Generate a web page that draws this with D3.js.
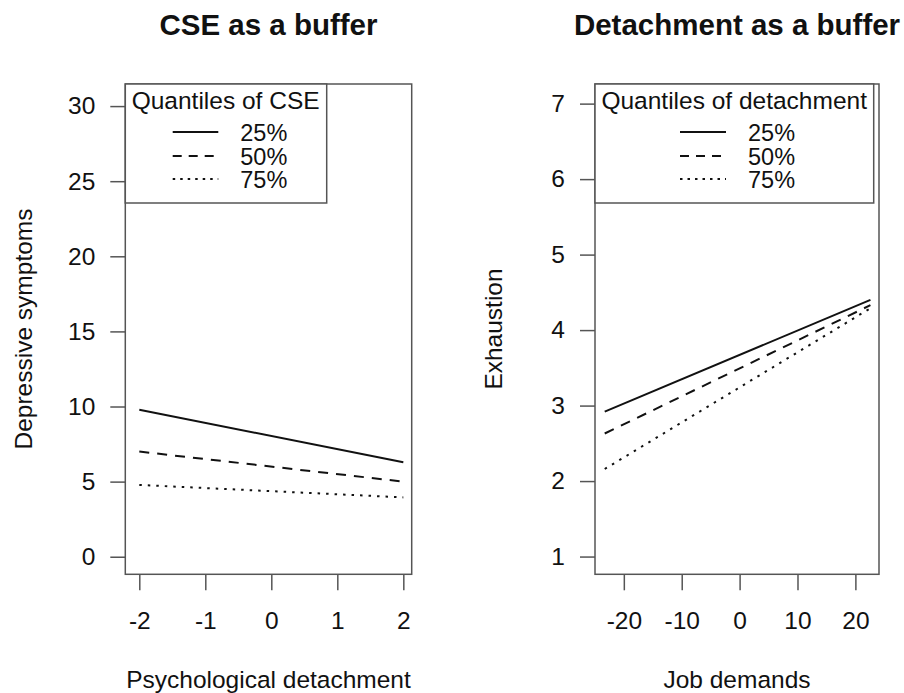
<!DOCTYPE html>
<html>
<head>
<meta charset="utf-8">
<script src="https://cdn.jsdelivr.net/npm/d3@7"></script>
<style>
  body { margin: 0; background: #fff; }
  text { font-family: "Liberation Sans", Arial, Helvetica, sans-serif; fill: #111; }
</style>
</head>
<body>
<div id="chart"></div>
<script>
// data
const quantiles = ["25%", "50%", "75%"];

const cseX = [-2, 2];
const cse25 = [9.78, 6.29];
const cse50 = [7.0, 5.0];
const cse75 = [4.78, 3.95];
const cseTicksX = [-2, -1, 0, 1, 2];
const cseTicksY = [0, 5, 10, 15, 20, 25, 30];

const detX = [-23.3, 22.6];
const det25 = [2.92, 4.40];
const det50 = [2.63, 4.33];
const det75 = [2.16, 4.29];
const detTicksX = [-20, -10, 0, 10, 20];
const detTicksY = [1, 2, 3, 4, 5, 6, 7];

const width = 904;
const height = 693;
const fontSize = 24.5;
const dashes = ["none", "10,8", "2.5,6"];
const legendDashes = ["none", "9,7", "2.5,5"];

const svg = d3.select("#chart").append("svg")
    .attr("width", width)
    .attr("height", height);

// R style labels: plain hyphen, no trailing decimals
const plain = d => String(d);

function drawPanel(p) {
    const x = d3.scaleLinear().domain(p.xDomain).range([p.left, p.right]);
    const y = d3.scaleLinear().domain(p.yDomain).range([574.3, 84]);
    const g = svg.append("g");

    // title
    g.append("text")
        .attr("x", (p.left + p.right) / 2)
        .attr("y", 35)
        .attr("text-anchor", "middle")
        .style("font-size", "29.5px")
        .style("font-weight", "bold")
        .text(p.title);

    // axes
    const xAxis = g.append("g")
        .attr("transform", "translate(0,574.3)")
        .call(d3.axisBottom(x).tickValues(p.ticksX).tickFormat(plain).tickSize(16).tickPadding(21));
    const yAxis = g.append("g")
        .attr("transform", `translate(${p.left},0)`)
        .call(d3.axisLeft(y).tickValues(p.ticksY).tickFormat(plain).tickSize(15).tickPadding(15));

    [xAxis, yAxis].forEach(a => {
        a.select(".domain").remove();
        a.selectAll("line").attr("stroke", "#555").attr("stroke-width", 1.5);
        a.selectAll("text")
            .attr("fill", "#111")
            .style("font-size", fontSize + "px")
            .style("font-family", '"Liberation Sans", Arial, sans-serif');
    });

    // axis titles
    g.append("text")
        .attr("x", (p.left + p.right) / 2)
        .attr("y", 688)
        .attr("text-anchor", "middle")
        .style("font-size", fontSize + "px")
        .text(p.xLabel);

    g.append("text")
        .attr("transform", `translate(${p.left - 93.5},329) rotate(-90)`)
        .attr("text-anchor", "middle")
        .style("font-size", fontSize + "px")
        .text(p.yLabel);

    // plot box
    g.append("rect")
        .attr("x", p.left)
        .attr("y", 84)
        .attr("width", p.right - p.left)
        .attr("height", 574.3 - 84)
        .attr("fill", "none")
        .attr("stroke", "#555")
        .attr("stroke-width", 1.5);

    // lines
    const line = d3.line()
        .x(d => x(d[0]))
        .y(d => y(d[1]));

    p.series.forEach((s, i) => {
        g.append("path")
            .datum(p.xs.map((v, j) => [v, s[j]]))
            .attr("d", line)
            .attr("fill", "none")
            .attr("stroke", "#111")
            .attr("stroke-width", 2)
            .attr("stroke-dasharray", dashes[i]);
    });

    // legend
    g.append("rect")
        .attr("x", p.left)
        .attr("y", 84)
        .attr("width", p.legendRight - p.left)
        .attr("height", 203 - 84)
        .attr("fill", "#fff")
        .attr("stroke", "#555")
        .attr("stroke-width", 1.5);

    g.append("text")
        .attr("x", p.left + 6.4)
        .attr("y", 109)
        .style("font-size", fontSize + "px")
        .text(p.legendTitle);

    const rows = [132, 156, 179];
    quantiles.forEach((q, i) => {
        g.append("line")
            .attr("x1", p.legendLine[0])
            .attr("x2", p.legendLine[1])
            .attr("y1", rows[i])
            .attr("y2", rows[i])
            .attr("stroke", "#111")
            .attr("stroke-width", 2)
            .attr("stroke-dasharray", legendDashes[i]);
        g.append("text")
            .attr("x", p.legendLine[1] + 22)
            .attr("y", rows[i] + 8.5)
            .style("font-size", "23.5px")
            .text(q);
    });
}

drawPanel({
    title: "CSE as a buffer",
    left: 125.3, right: 411.7,
    xDomain: [-2.212, 2.127],
    yDomain: [-1.17, 31.47],
    ticksX: cseTicksX, ticksY: cseTicksY,
    xs: cseX, series: [cse25, cse50, cse75],
    xLabel: "Psychological detachment",
    yLabel: "Depressive symptoms",
    legendTitle: "Quantiles of CSE",
    legendRight: 326.7,
    legendLine: [172.7, 218.3]
});

drawPanel({
    title: "Detachment as a buffer",
    left: 595, right: 879,
    xDomain: [-24.98, 24.08],
    yDomain: [0.765, 7.26],
    ticksX: detTicksX, ticksY: detTicksY,
    xs: detX, series: [det25, det50, det75],
    xLabel: "Job demands",
    yLabel: "Exhaustion",
    legendTitle: "Quantiles of detachment",
    legendRight: 873.7,
    legendLine: [680, 726]
});
</script>
</body>
</html>
